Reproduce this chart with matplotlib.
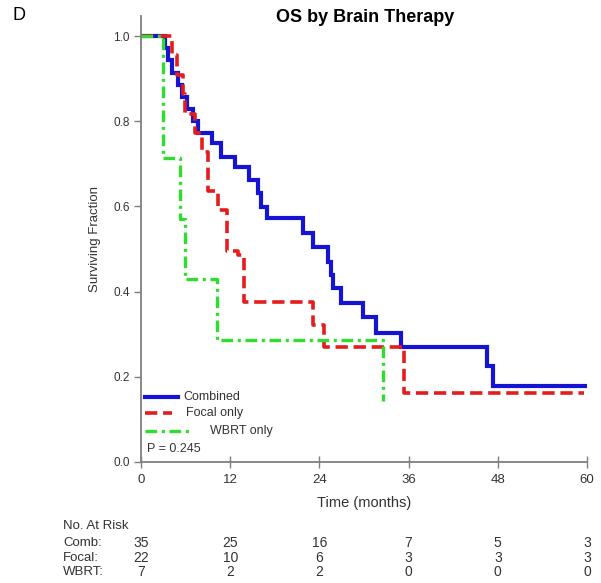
import numpy as np
import matplotlib
matplotlib.use("Agg")
import matplotlib.pyplot as plt
from matplotlib.transforms import blended_transform_factory

plt.rcParams['font.family'] = ['Liberation Sans', 'DejaVu Sans']

# Kaplan-Meier steps (months, surviving fraction)
comb_t = [0, 3.2, 3.6, 4.2, 5.0, 5.5, 6.2, 7.0, 7.7, 9.6, 10.7, 12.7, 14.5, 15.7, 16.1, 17.0,
          21.8, 23.2, 25.1, 25.5, 25.8, 26.9, 29.9, 31.6, 35.0, 46.5, 47.4, 60.0]
comb_s = [1.0, 0.971, 0.943, 0.914, 0.886, 0.857, 0.829, 0.800, 0.772, 0.749, 0.716, 0.692, 0.662,
          0.631, 0.599, 0.573, 0.538, 0.505, 0.470, 0.440, 0.408, 0.373, 0.340, 0.303, 0.270,
          0.225, 0.178, 0.178]

focal_t = [0, 4.2, 4.9, 5.6, 5.9, 7.3, 8.2, 9.0, 10.4, 11.6, 13.0, 13.9, 23.2, 24.6, 35.4, 59.6]
focal_s = [1.0, 0.955, 0.909, 0.864, 0.818, 0.773, 0.727, 0.636, 0.591, 0.495, 0.485, 0.376,
           0.322, 0.270, 0.162, 0.162]

wbrt_t = [0, 2.9, 5.3, 5.9, 10.2, 32.6]
wbrt_s = [1.0, 0.714, 0.571, 0.429, 0.286, 0.143]

risk_times = [0, 12, 24, 36, 48, 60]
risk_rows = ["Comb:", "Focal:", "WBRT:"]
risk_comb = [35, 25, 16, 7, 5, 3]
risk_focal = [22, 10, 6, 3, 3, 3]
risk_wbrt = [7, 2, 2, 0, 0, 0]

blue = '#1414d2'
red = '#e41c1c'
green = '#2fdc2f'
grey = '#7f7f7f'
txt = '#333333'

fig = plt.figure(figsize=(6.01, 5.83), dpi=100)
ax = fig.add_axes([141 / 601, 1 - 462 / 583, 446 / 601, 446 / 583])

ax.step(comb_t, comb_s, where='post', color=blue, lw=3.0, solid_joinstyle='miter')
ax.step(focal_t, focal_s, where='post', color=red, lw=2.6, dashes=(3.4, 1.6))
ax.step(wbrt_t, wbrt_s, where='post', color=green, lw=2.4, dashes=(3.5, 1.4, 0.9, 1.4))

ax.set_xlim(0, 60)
ax.set_ylim(0, 1.047)
ax.set_xticks(risk_times)
ax.set_yticks([0, 0.2, 0.4, 0.6, 0.8, 1.0])
ax.set_yticklabels(['0.0', '0.2', '0.4', '0.6', '0.8', '1.0'])
for s in ['top', 'right']:
    ax.spines[s].set_visible(False)
for s in ['left', 'bottom']:
    ax.spines[s].set_color(grey)
    ax.spines[s].set_linewidth(1.3)
ax.tick_params(axis='y', direction='out', length=5, width=1, color=grey, labelsize=8.5, pad=3,
               labelcolor=txt)
ax.tick_params(axis='x', direction='inout', length=9, width=1, color=grey, labelsize=9.5, pad=4,
               labelcolor=txt)
ax.set_ylabel('Surviving Fraction', fontsize=9.5, color=txt, labelpad=9)
ax.set_xlabel('Time (months)', fontsize=10.5, color=txt, labelpad=7)

# legend drawn by hand (uneven offsets as in the original)
ta = ax.transAxes
ax.plot([0.010, 0.082], [0.146, 0.146], transform=ta, color=blue, lw=3.0)
ax.text(0.094, 0.146, 'Combined', transform=ta, fontsize=9, va='center', color=txt)
ax.plot([0.010, 0.070], [0.110, 0.110], transform=ta, color=red, lw=2.6, dashes=(3.4, 1.6))
ax.text(0.101, 0.110, 'Focal only', transform=ta, fontsize=9, va='center', color=txt)
ax.plot([0.010, 0.115], [0.070, 0.070], transform=ta, color=green, lw=2.4,
        dashes=(3.5, 1.4, 0.9, 1.4))
ax.text(0.155, 0.070, 'WBRT only', transform=ta, fontsize=9, va='center', color=txt)
ax.text(0.014, 0.030, 'P = 0.245', transform=ta, fontsize=9, va='center', color=txt)

fig.text(365 / 601, 1 - 18 / 583, 'OS by Brain Therapy', ha='center', va='center',
         fontsize=13, fontweight='bold')
fig.text(12 / 601, 1 - 16 / 583, 'D', ha='left', va='center', fontsize=13)

# number at risk table
fig.text(63 / 601, 1 - 526 / 583, 'No. At Risk', fontsize=9.5, va='center', color=txt)
tr = blended_transform_factory(ax.transData, fig.transFigure)
row_y = [543, 558, 572]
for label, counts, y in zip(risk_rows, [risk_comb, risk_focal, risk_wbrt], row_y):
    fig.text(63 / 601, 1 - y / 583, label, fontsize=9.5, va='center', color=txt)
    for t, n in zip(risk_times, counts):
        ax.text(t, 1 - y / 583, str(n), transform=tr, ha='center', va='center',
                fontsize=10, color=txt, clip_on=False)

fig.savefig('out.png', dpi=100)
